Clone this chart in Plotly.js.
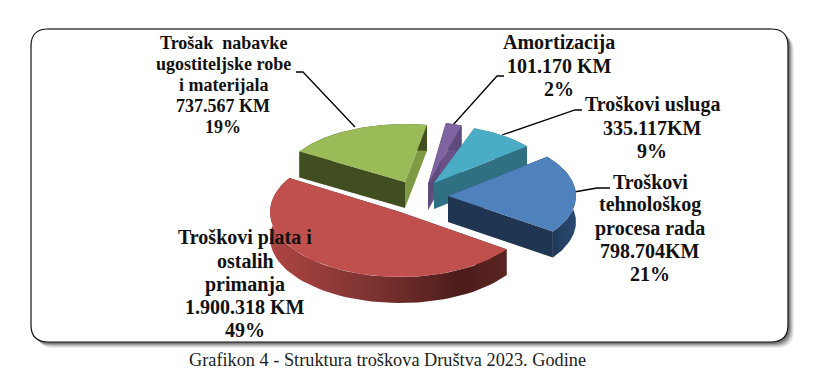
<!DOCTYPE html>
<html><head><meta charset="utf-8">
<script src="https://cdn.plot.ly/plotly-3.0.1.min.js"></script>
<style>html,body{margin:0;padding:0;background:#fff}#c{width:813px;height:376px}</style>
</head><body><div id="c"></div>
<script>
// ---- data, clockwise from the lower right ----
const categories = ["Troškovi plata i ostalih primanja","Trošak nabavke ugostiteljske robe i materijala","Amortizacija","Troškovi usluga","Troškovi tehnološkog procesa rada"];
const values = [1900318, 737567, 101170, 335117, 798704];
const labels = [
  "Troškovi plata i<br>ostalih<br>primanja<br>1.900.318 KM<br>49%",
  "Trošak  nabavke<br>ugostiteljske robe<br>i materijala<br>737.567 KM<br>19%",
  "Amortizacija<br>101.170 KM<br>2%",
  "Troškovi usluga<br>335.117KM<br>9%",
  "Troškovi<br>tehnološkog<br>procesa rada<br>798.704KM<br>21%"
];
const caption = "Grafikon 4 - Struktura troškova Društva 2023. Godine";

// ---- styling / placement (pixel-scaled axes) ----
const W = 813, H = 376, startDeg = 35, depth = 26;
const cxs = [400, 405, 428, 434, 448], cys = [212, 182, 184, 183, 196];
const rxs = [130, 124, 100, 120, 128], rys = [65, 58, 62, 58, 62];
const topCol = ["#C0504D","#9BBB59","#8064A2","#4BACC6","#4F81BD"];
const wallStart = ["#4F1F1D","#414F20","#5E4A7B","#2F7083","#1F3552"];
const wallEnd   = ["#4F1F1D","#7E9A45","#6A5288","#2F7083","#1F3552"];
const outerGrad = [
  [[0,"#AE4543"],[0.45,"#7A3230"],[0.8,"#4C1C1A"],[1,"#5A2523"]],
  [[0,"#414F20"],[1,"#414F20"]],
  [[0,"#5E4A7B"],[1,"#5E4A7B"]],
  [[0,"#2F7083"],[1,"#2F7083"]],
  [[0,"#1F3552"],[1,"#2A4A72"]]
];
const labelX = [245, 223, 559, 652, 650], labelY = [284, 85, 66, 128, 228];
const labelSize = [20, 18, 20, 20, 20], lineGap = [23.2, 21, 23.4, 23.4, 23.2];
const drawOrder = [1, 2, 3, 4, 0];

const total = values.reduce((a, b) => a + b, 0);
const rad = d => d * Math.PI / 180;
let acc = startDeg;
const spans = values.map(v => { const s = acc; acc += v / total * 360; return [s, acc]; });
function arc(i) {
  const [a, b] = spans[i], n = 60, xs = [], ys = [];
  for (let k = 0; k <= n; k++) {
    const t = rad(a + (b - a) * k / n);
    xs.push(cxs[i] + rxs[i] * Math.cos(t)); ys.push(cys[i] + rys[i] * Math.sin(t));
  }
  return [xs, ys];
}
const poly = (x, y, color, extra) => Object.assign({type:"scatter", mode:"lines", x, y, fill:"toself",
  fillcolor:color, line:{width:0}, hoverinfo:"skip", showlegend:false}, extra||{});

const traces = [];
drawOrder.forEach(i => {
  const [xs, ys] = arc(i), cx = cxs[i], cy = cys[i], L = xs.length - 1;
  // radial walls
  traces.push(poly([cx, xs[L], xs[L], cx, cx], [cy, ys[L], ys[L]+depth, cy+depth, cy], wallEnd[i]));
  traces.push(poly([cx, xs[0], xs[0], cx, cx], [cy, ys[0], ys[0]+depth, cy+depth, cy], wallStart[i]));
  // rim
  const rx = xs.concat(xs.slice().reverse()), ry = ys.concat(ys.slice().reverse().map(v => v + depth));
  traces.push(poly(rx, ry, wallStart[i], {fillgradient:{type:"horizontal", start:Math.min(...xs), stop:Math.max(...xs), colorscale:outerGrad[i]}}));
  // top
  traces.push(poly([cx].concat(xs, [cx]), [cy].concat(ys, [cy]), topCol[i],
    {name:categories[i], hoverinfo:"text", text:labels[i].replace(/<br>/g," ")}));
});

function rr(x0,y0,x1,y1,r){return `M${x0+r},${y0} L${x1-r},${y0} Q${x1},${y0} ${x1},${y0+r} L${x1},${y1-r} Q${x1},${y1} ${x1-r},${y1} L${x0+r},${y1} Q${x0},${y1} ${x0},${y1-r} L${x0},${y0+r} Q${x0},${y0} ${x0+r},${y0} Z`;}
const shapes = [];
[[6,6,.10],[5,5,.14],[4,4,.2],[3,3,.3],[2,2,.45]].forEach(([dx,dy,o]) =>
  shapes.push({type:"path", layer:"below", path:rr(31+dx,29+dy,788+dx,342+dy,17), fillcolor:"#555", opacity:o, line:{width:0}}));
shapes.push({type:"path", layer:"below", path:rr(31,29,788,342,17), fillcolor:"#fff", line:{color:"#111",width:1.2}});
shapes.push({type:"path", layer:"below", path:"M48,29 L771,29", line:{color:"#707070",width:2}});
["M296,72 L303,72 L355,127","M504,76 L497,76 L453,125","M582,110 L575,110 L502,135","M610,188 L597,188 L574,192"]
  .forEach(p => shapes.push({type:"path", layer:"below", path:p, line:{color:"#000",width:1.3}}));

const annotations = [];
labels.forEach((t,i)=>{
  const parts = t.split("<br>");
  parts.forEach((s,k)=>annotations.push({x:labelX[i], y:labelY[i]+(k-(parts.length-1)/2)*lineGap[i], xref:"x", yref:"y",
    text:"<b>"+s.replace(/  /g," \u00a0")+"</b>", showarrow:false, xanchor:"center", yanchor:"middle",
    font:{family:"Liberation Serif", size:labelSize[i], color:"#111"}}));
});
annotations.push({x:387, y:360, xref:"x", yref:"y", text:caption, showarrow:false, xanchor:"center", yanchor:"middle",
  font:{family:"Liberation Serif", size:18.3, color:"#222"}});

Plotly.newPlot("c", traces, {
  width:W, height:H, margin:{l:0,r:0,t:0,b:0}, paper_bgcolor:"#fff", plot_bgcolor:"rgba(0,0,0,0)", showlegend:false,
  xaxis:{range:[0,W], visible:false, fixedrange:true},
  yaxis:{range:[H,0], visible:false, fixedrange:true},
  shapes, annotations
}, {displayModeBar:false});
</script></body></html>
